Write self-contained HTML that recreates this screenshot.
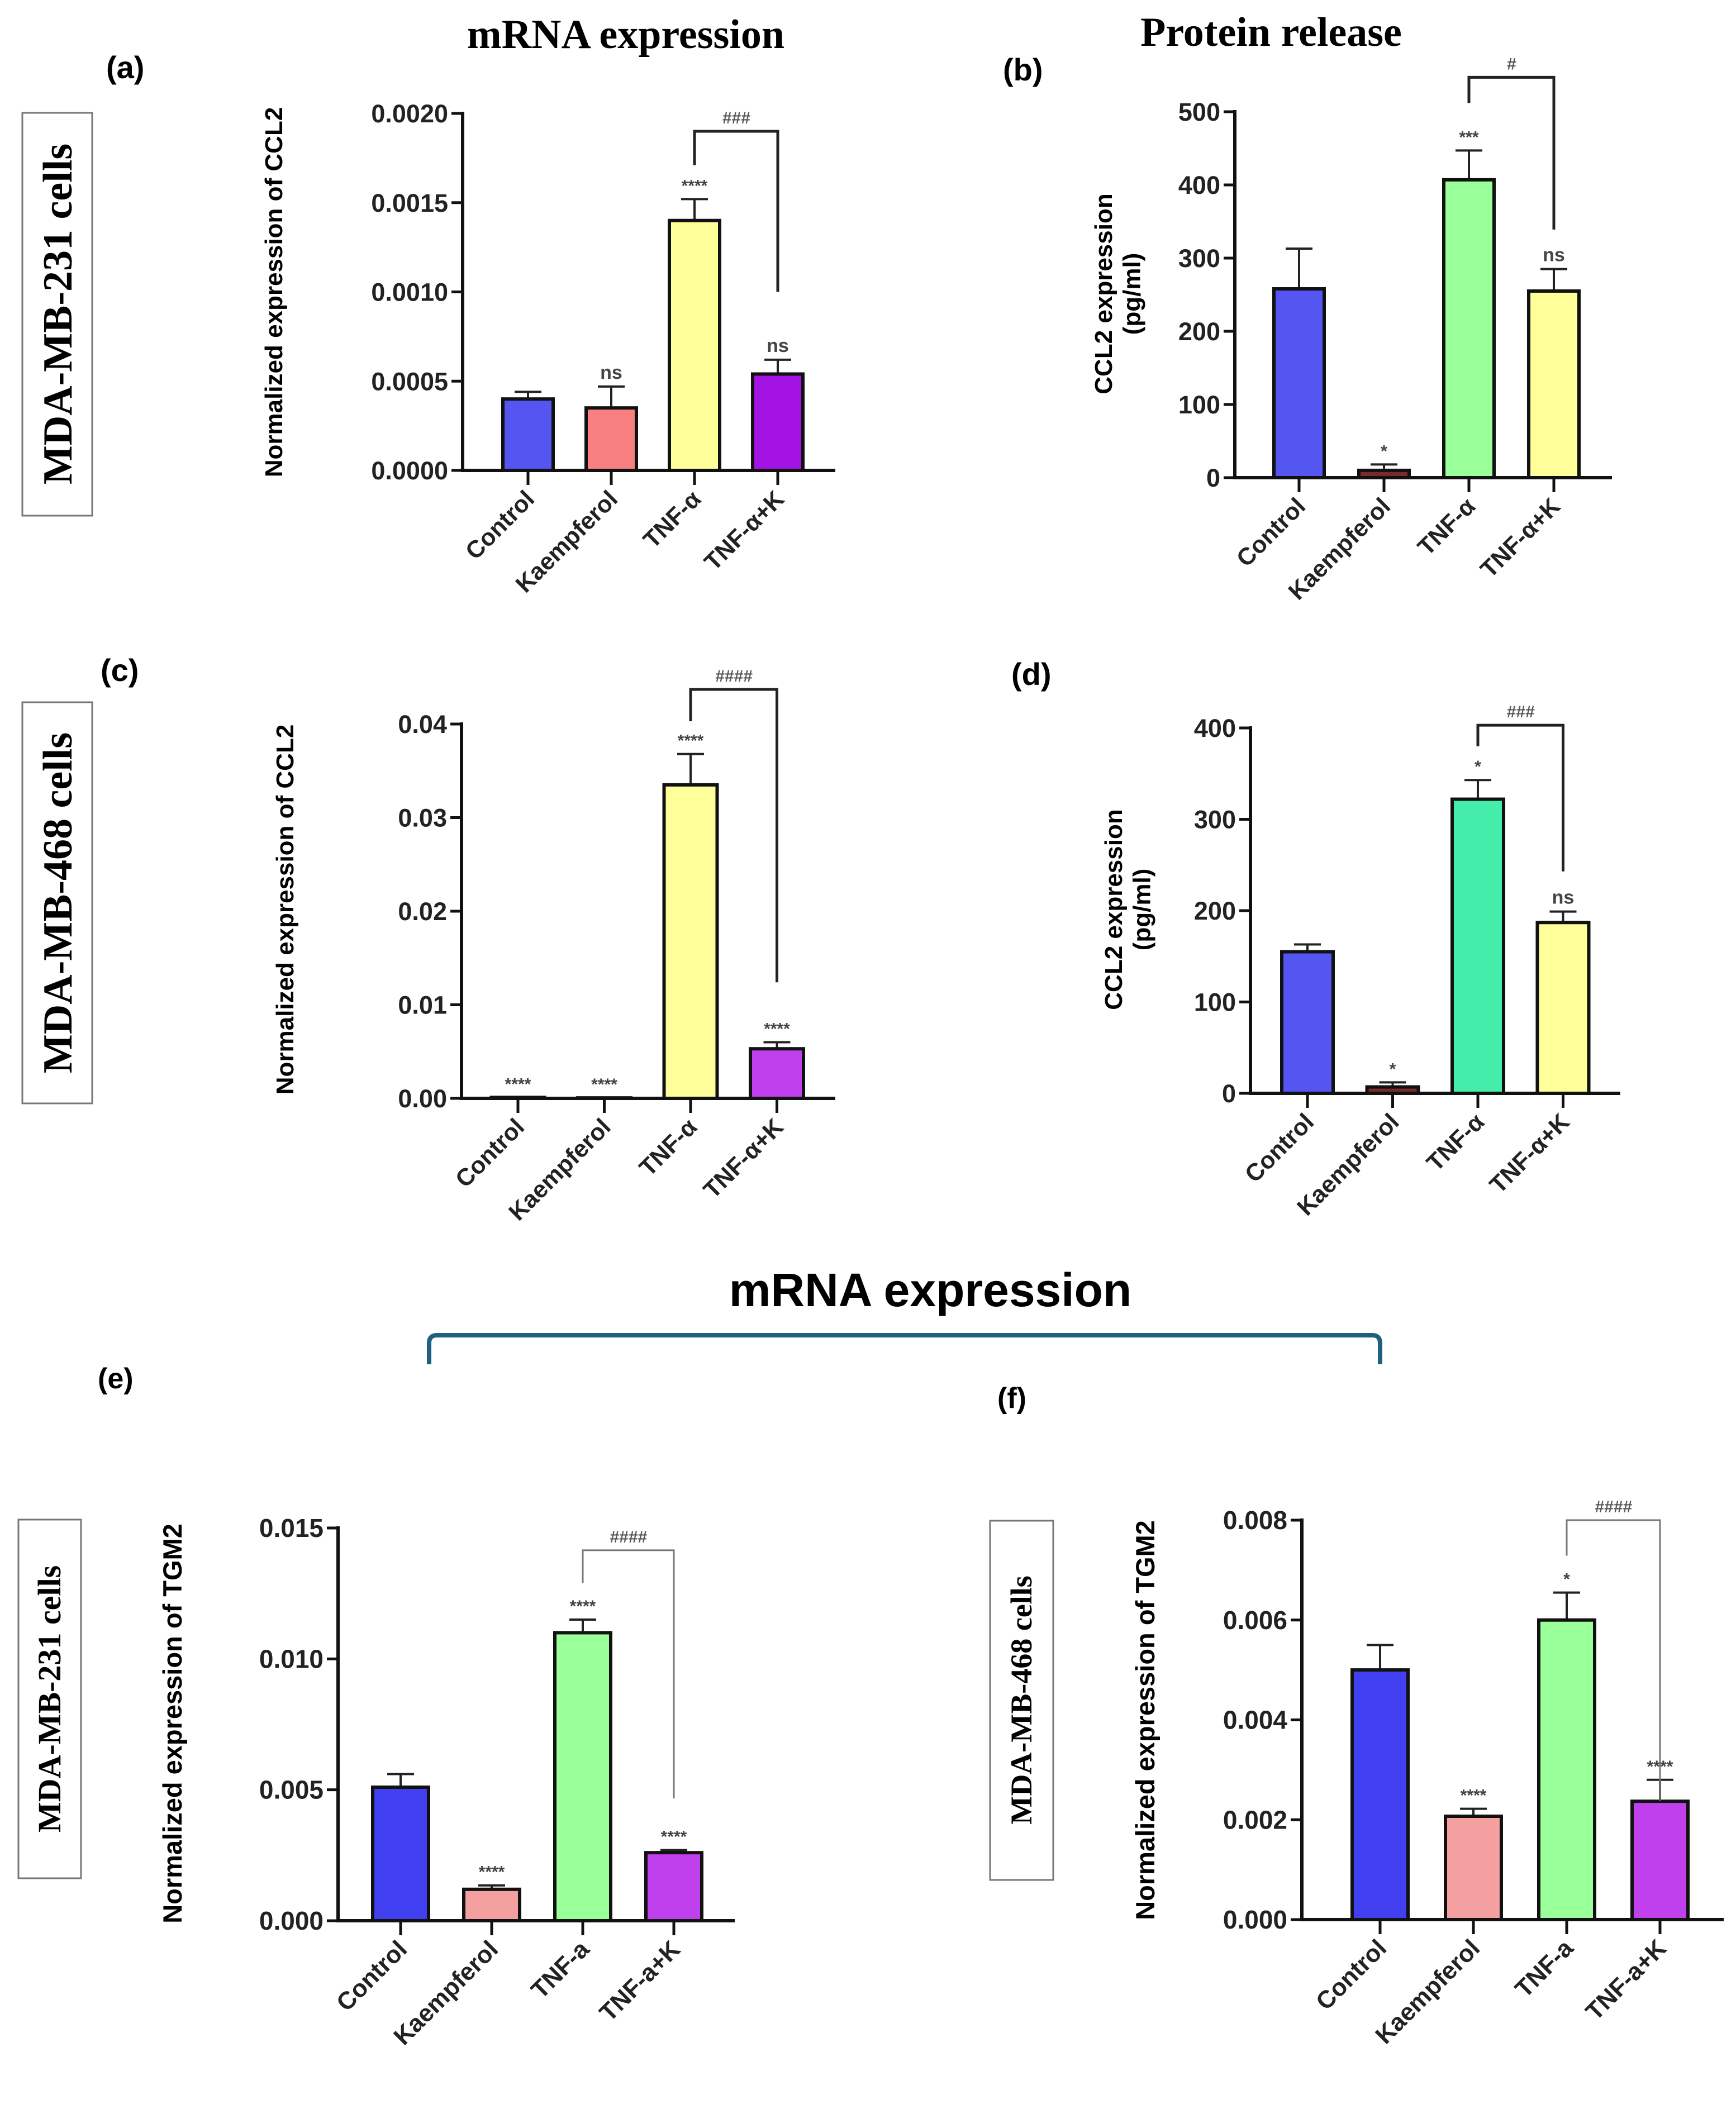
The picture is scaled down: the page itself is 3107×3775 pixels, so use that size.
<!DOCTYPE html>
<html><head><meta charset="utf-8">
<style>
html,body{margin:0;padding:0;background:#fff;}
svg{display:block;}
text{font-family:"Liberation Sans",Arial,sans-serif;font-weight:bold;}
.serif{font-family:"Liberation Serif","Times New Roman",serif;}
</style></head>
<body>
<svg id="fig" xmlns="http://www.w3.org/2000/svg" width="3107" height="3775" viewBox="0 0 3107 3775">
<rect x="0" y="0" width="3107" height="3775" fill="#fff"/>
<text class="serif" x="1120" y="86" font-size="74" text-anchor="middle">mRNA expression</text>
<text class="serif" x="2275" y="82" font-size="74" text-anchor="middle">Protein release</text>
<text x="1665" y="2338" font-size="84" text-anchor="middle">mRNA expression</text>
<path d="M768 2442 V2404 Q768 2390 782 2390 H2456 Q2470 2390 2470 2404 V2442" fill="none" stroke="#1f5f7f" stroke-width="8"/>
<text x="190" y="140" font-size="56">(a)</text>
<text x="1795" y="144" font-size="56">(b)</text>
<text x="180" y="1219" font-size="56">(c)</text>
<text x="1810" y="1226" font-size="56">(d)</text>
<text x="175" y="2485" font-size="52">(e)</text>
<text x="1785" y="2520" font-size="52">(f)</text>
<g>
<rect x="40" y="202" width="125" height="721" fill="#fff" stroke="#777" stroke-width="3"/>
<text class="serif" x="0" y="0" font-size="74" text-anchor="middle" transform="translate(128,562) rotate(-90)">MDA-MB-231 cells</text>
</g>
<g>
<rect x="40" y="1257" width="125" height="718" fill="#fff" stroke="#777" stroke-width="3"/>
<text class="serif" x="0" y="0" font-size="74" text-anchor="middle" transform="translate(128,1616) rotate(-90)">MDA-MB-468 cells</text>
</g>
<g>
<rect x="33" y="2720" width="112" height="642" fill="#fff" stroke="#777" stroke-width="3"/>
<text class="serif" x="0" y="0" font-size="58" text-anchor="middle" transform="translate(108,3041) rotate(-90)">MDA-MB-231 cells</text>
</g>
<g>
<rect x="1772" y="2722" width="113" height="643" fill="#fff" stroke="#777" stroke-width="3"/>
<text class="serif" x="0" y="0" font-size="54" text-anchor="middle" transform="translate(1846,3043) rotate(-90)">MDA-MB-468 cells</text>
</g>
<g id="charts"></g>
</svg>
<script>
// ---- data ----
const catsAlpha = ["Control","Kaempferol","TNF-α","TNF-α+K"];
const catsA2 = ["Control","Kaempferol","TNF-a","TNF-a+K"];

const valsA = [0.0004, 0.00035, 0.0014, 0.00054];
const errsA = [0.00044, 0.00047, 0.00152, 0.00062];
const sigA = ["", "ns", "****", "ns"];
const ticksA = ["0.0000","0.0005","0.0010","0.0015","0.0020"];
const bracketA = [0.0019, 0.00171, 0.001];

const valsB = [258, 10, 407, 255];
const errsB = [313, 18, 447, 285];
const sigB = ["", "*", "***", "ns"];
const ticksB = ["0","100","200","300","400","500"];
const bracketB = [547, 512, 339];

const valsC = [0.0001, 0.00005, 0.0335, 0.0053];
const errsC = [0.0001, 0.00005, 0.0368, 0.006];
const sigC = ["****", "****", "****", "****"];
const ticksC = ["0.00","0.01","0.02","0.03","0.04"];
const bracketC = [0.0437, 0.0403, 0.0124];

const valsD = [155, 7, 322, 187];
const errsD = [163, 12, 343, 199];
const sigD = ["", "*", "*", "ns"];
const ticksD = ["0","100","200","300","400"];
const bracketD = [403, 380, 243];

const valsE = [0.0051, 0.0012, 0.0110, 0.0026];
const errsE = [0.0056, 0.00135, 0.0115, 0.0027];
const sigE = ["", "****", "****", "****"];
const ticksE = ["0.000","0.005","0.010","0.015"];
const bracketE = [0.01415, 0.0129, 0.00467];

const valsF = [0.0050, 0.00207, 0.0060, 0.00237];
const errsF = [0.0055, 0.00222, 0.00655, 0.0028];
const sigF = ["", "****", "*", "****"];
const ticksF = ["0.000","0.002","0.004","0.006","0.008"];
const bracketF = [0.008, 0.00729, 0.00238];

const NS = "http://www.w3.org/2000/svg";
const root = document.getElementById("charts");
function mk(tag, attrs, parent){
  const e = document.createElementNS(NS, tag);
  for (const k in attrs) e.setAttribute(k, attrs[k]);
  (parent||root).appendChild(e); return e;
}

function drawChart(p){
  const g = mk("g", {});
  
  
  const yOf = v => p.y0 - (v / p.max) * (p.y0 - p.yTop);
  p.ticks.forEach((t, i) => {
    const v = p.max * i / (p.ticks.length - 1);
    const y = yOf(v);
    mk("line", {x1:p.xAxis-20, x2:p.xAxis, y1:y, y2:y, stroke:"#111", "stroke-width":5}, g);
    const tx = mk("text", {x:p.xAxis-26, y:y+16, "font-size":p.tickFs, "text-anchor":"end", fill:"#222"}, g);
    tx.textContent = t;
    
    
  });
  p.ytitle.forEach((ln, i) => {
    const tt = mk("text", {x:0, y:0, "font-size":p.titleFs, "text-anchor":"middle",
      transform:`translate(${p.ytX + i*p.titleFs*1.15},${p.ytY}) rotate(-90)`}, g);
    tt.textContent = ln;
    
    
  });
  p.vals.forEach((v, i) => {
    const cx = p.cx0 + i * p.step;
    const top = yOf(v);
    const eTop = yOf(p.errs[i]);
    mk("line", {x1:cx, x2:cx, y1:top, y2:eTop, stroke:"#222", "stroke-width":4}, g);
    mk("line", {x1:cx-24, x2:cx+24, y1:eTop, y2:eTop, stroke:"#222", "stroke-width":4}, g);
    const r = mk("rect", {x:cx-p.bw/2, y:top, width:p.bw, height:Math.max(p.y0-top,0.5), fill:p.colors[i], stroke:"#111", "stroke-width":6}, g);
    
    
    if (p.sig[i]) {
      const s = mk("text", {x:cx, y:eTop-14, "font-size":p.sig[i]==="ns"?34:30, "text-anchor":"middle", fill:"#444"}, g);
      s.textContent = p.sig[i];
      
      
    }
    mk("line", {x1:cx, x2:cx, y1:p.y0, y2:p.y0+26, stroke:"#111", "stroke-width":5}, g);
    const cl = mk("text", {x:0, y:0, "font-size":p.catFs, "text-anchor":"end", fill:"#222",
      transform:`translate(${cx+14},${p.y0+54}) rotate(-45)`}, g);
    cl.textContent = p.cats[i];
    
    
  });
  mk("line", {x1:p.xAxis, x2:p.xAxis, y1:p.yTop-3, y2:p.y0+3, stroke:"#111", "stroke-width":6}, g);
  mk("line", {x1:p.xAxis-3, x2:p.xEnd, y1:p.y0, y2:p.y0, stroke:"#111", "stroke-width":6}, g);
  const lx = p.cx0 + 2*p.step, rx = p.cx0 + 3*p.step;
  const bt = yOf(p.bracket[0]);
  const br = mk("path", {d:`M${lx} ${yOf(p.bracket[1])} V${bt} H${rx} V${yOf(p.bracket[2])}`, fill:"none", stroke:p.brColor, "stroke-width":p.brW}, g);
  
  
  const bl = mk("text", {x:(lx+rx)/2, y:bt-14, "font-size":30, "text-anchor":"middle", fill:"#555", "font-style":"italic"}, g);
  bl.textContent = p.brLabel;
  
  
}

const blue="#5555f2", salmon="#f88080", yellow="#ffff99", purple="#a314e4", dark="#7a2a2a", green="#99ff99", teal="#44eeaa", blue2="#4040f0", pink="#f4a0a0", purple2="#c040ee";

drawChart({name:"chart-a", cats:catsAlpha, vals:valsA, errs:errsA, sig:sigA, ticks:ticksA, bracket:bracketA, brLabel:"###",
  max:0.002, y0:842, yTop:203, xAxis:828, xEnd:1495, cx0:945, step:149, bw:90, colors:[blue,salmon,yellow,purple],
  ytitle:["Normalized expression of CCL2"], ytX:505, ytY:523, titleFs:44, tickFs:45, catFs:43, brColor:"#222", brW:5});
drawChart({name:"chart-b", cats:catsAlpha, vals:valsB, errs:errsB, sig:sigB, ticks:ticksB, bracket:bracketB, brLabel:"#",
  max:500, y0:855, yTop:200, xAxis:2210, xEnd:2885, cx0:2325, step:152, bw:90, colors:[blue,dark,green,yellow],
  ytitle:["CCL2 expression","(pg/ml)"], ytX:1990, ytY:526, titleFs:44, tickFs:45, catFs:43, brColor:"#222", brW:5});
drawChart({name:"chart-c", cats:catsAlpha, vals:valsC, errs:errsC, sig:sigC, ticks:ticksC, bracket:bracketC, brLabel:"####",
  max:0.04, y0:1966, yTop:1296, xAxis:826, xEnd:1495, cx0:927, step:154.5, bw:95, colors:[blue,salmon,yellow,purple2],
  ytitle:["Normalized expression of CCL2"], ytX:525, ytY:1628, titleFs:44, tickFs:45, catFs:43, brColor:"#222", brW:5});
drawChart({name:"chart-d", cats:catsAlpha, vals:valsD, errs:errsD, sig:sigD, ticks:ticksD, bracket:bracketD, brLabel:"###",
  max:400, y0:1957, yTop:1303, xAxis:2238, xEnd:2900, cx0:2340, step:152.5, bw:92, colors:[blue,dark,teal,yellow],
  ytitle:["CCL2 expression","(pg/ml)"], ytX:2008, ytY:1628, titleFs:44, tickFs:45, catFs:43, brColor:"#222", brW:5});
drawChart({name:"chart-e", cats:catsA2, vals:valsE, errs:errsE, sig:sigE, ticks:ticksE, bracket:bracketE, brLabel:"####",
  max:0.015, y0:3438, yTop:2735, xAxis:605, xEnd:1315, cx0:717, step:163, bw:100, colors:[blue2,pink,green,purple2],
  ytitle:["Normalized expression of TGM2"], ytX:325, ytY:3085, titleFs:47, tickFs:46, catFs:44, brColor:"#777", brW:3});
drawChart({name:"chart-f", cats:catsA2, vals:valsF, errs:errsF, sig:sigF, ticks:ticksF, bracket:bracketF, brLabel:"####",
  max:0.008, y0:3436, yTop:2721, xAxis:2330, xEnd:3085, cx0:2470, step:167, bw:100, colors:[blue2,pink,green,purple2],
  ytitle:["Normalized expression of TGM2"], ytX:2066, ytY:3079, titleFs:47, tickFs:46, catFs:44, brColor:"#777", brW:3});
</script>
</body></html>
